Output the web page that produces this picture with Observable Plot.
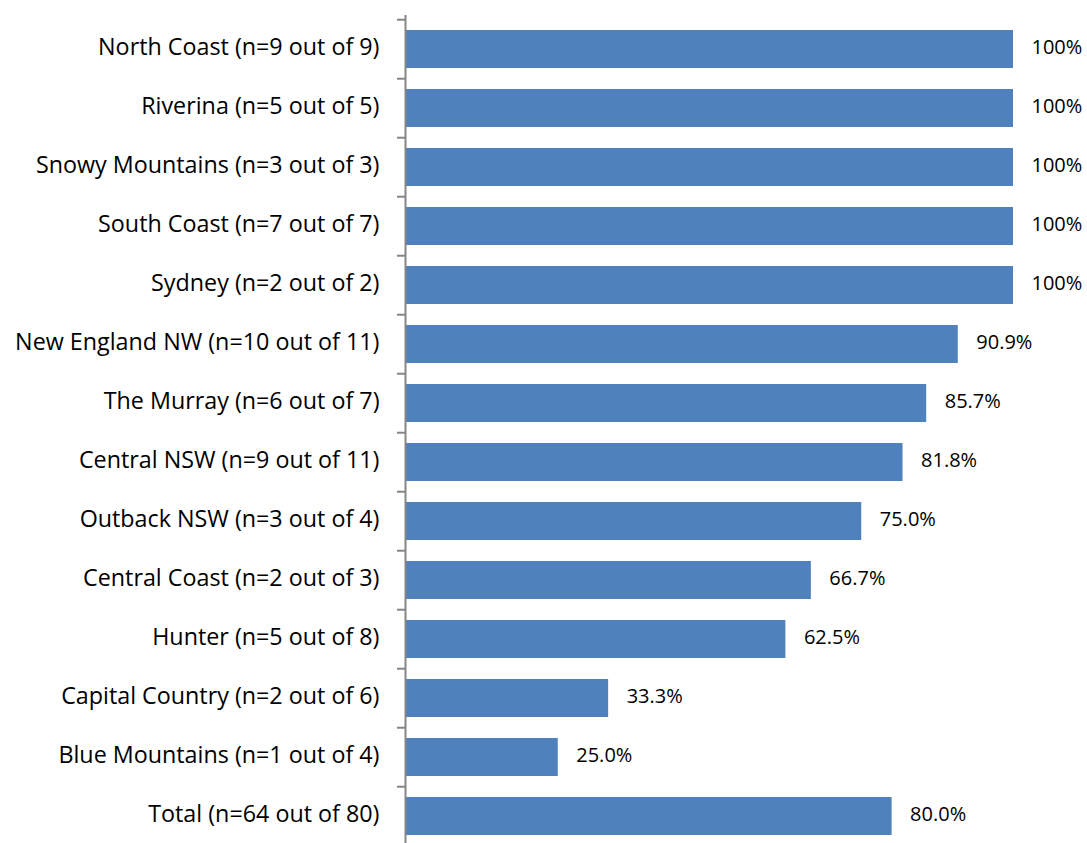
<!DOCTYPE html>
<html>
<head>
<meta charset="utf-8">
<script src="https://cdn.jsdelivr.net/npm/d3@7"></script>
<script src="https://cdn.jsdelivr.net/npm/@observablehq/plot@0.6"></script>
<style>
  html, body { margin: 0; padding: 0; background: #ffffff; }
  #chart svg { display: block; }
</style>
</head>
<body>
<div id="chart"></div>
<script>
const regions = ["North Coast", "Riverina", "Snowy Mountains", "South Coast", "Sydney", "New England NW", "The Murray", "Central NSW", "Outback NSW", "Central Coast", "Hunter", "Capital Country", "Blue Mountains", "Total"];
const counts = [9, 5, 3, 7, 2, 10, 6, 9, 3, 2, 5, 2, 1, 64];
const totals = [9, 5, 3, 7, 2, 11, 7, 11, 4, 3, 8, 6, 4, 80];
const percents = [100, 100, 100, 100, 100, 90.9, 85.7, 81.8, 75.0, 66.7, 62.5, 33.3, 25.0, 80.0];
const valueLabels = ["100%", "100%", "100%", "100%", "100%", "90.9%", "85.7%", "81.8%", "75.0%", "66.7%", "62.5%", "33.3%", "25.0%", "80.0%"];

const categories = regions.map((r, i) => `${r} (n=${counts[i]} out of ${totals[i]})`);
const data = categories.map((c, i) => ({label: c, pct: percents[i], text: valueLabels[i]}));

const yTop = 15, yBottom = 849;
const bandStep = (yBottom - yTop) / categories.length;

const chart = Plot.plot({
  width: 1087,
  height: 843,
  marginLeft: 405,
  marginRight: 0,
  marginTop: yTop,
  marginBottom: 0,
  style: {fontFamily: "'Open Sans', Lato, sans-serif", color: "#000", background: "#fff"},
  x: {domain: [0, 100], range: [406, 1013], axis: null},
  y: {domain: categories, range: [yTop, yBottom], paddingInner: 0.36, paddingOuter: 0.18, axis: null},
  marks: [
    Plot.barX(data, {y: "label", x: "pct", fill: "#4f81bd"}),
    Plot.text(data, {y: "label", x: "pct", text: "text", textAnchor: "start", dx: 18, dy: -2, fontSize: 20, fill: "#000"}),
    Plot.ruleX([0], {stroke: "#868686", strokeWidth: 2, dx: -1}),
    Plot.axisY({anchor: "left", label: null, tickSize: 0, tickPadding: 26, dy: -2, fontSize: 23.3, fill: "#000"}),
    Plot.axisY({anchor: "left", label: null, tickSize: 8, tickFormat: () => "", dy: -bandStep / 2, stroke: "#868686", strokeWidth: 2, strokeOpacity: 1})
  ]
});
document.getElementById("chart").appendChild(chart);
</script>
</body>
</html>
